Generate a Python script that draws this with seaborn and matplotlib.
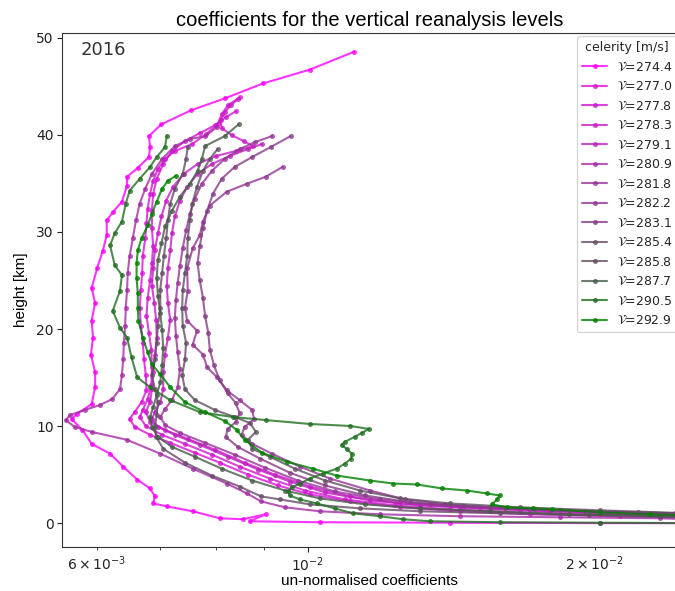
import numpy as np
import pandas as pd
import matplotlib
matplotlib.use("Agg")
import matplotlib.pyplot as plt
from matplotlib.lines import Line2D
import seaborn as sns

# ---------------- data (heights in km, coefficients in units of 1e-3) ----------------
year_label = "2016"
celerity = [274.4, 277.0, 277.8, 278.3, 279.1, 280.9, 281.8, 282.2, 283.1,
            285.4, 285.8, 287.7, 290.5, 292.9]
COEF_UNIT = 1e-3

h_2744 = [48.57, 46.73, 45.30, 43.76, 42.54, 41.10, 39.88, 38.75, 37.73, 36.61, 35.69, 34.76,
          33.13, 32.11, 31.19, 29.65, 28.02, 26.28, 24.23, 22.70, 20.86, 19.12, 17.38, 15.54,
          14.01, 12.27, 11.25, 10.74, 9.61, 8.18, 7.16, 5.83, 4.50, 3.58, 2.76, 2.04, 1.74,
          1.23, 0.51, 0.41, 0.92, 0.20, 0.10, 0.05, 0.01, 0.0]
c_2744 = [11.18, 10.05, 8.97, 8.18, 7.54, 7.02, 6.81, 6.83, 6.81, 6.63, 6.46, 6.46,
          6.38, 6.25, 6.15, 6.15, 6.09, 6.01, 5.93, 5.98, 5.93, 5.95, 5.92, 5.98,
          5.98, 5.93, 5.72, 5.65, 5.80, 5.93, 6.20, 6.40, 6.62, 6.83, 6.91, 6.88, 7.11,
          7.57, 8.08, 8.54, 9.03, 8.69, 10.29, 14.09, 20.25, 27.0]

h_2770 = [43.87, 43.05, 42.13, 41.10, 40.08, 39.06, 38.34, 37.53, 36.50, 35.28, 33.95, 32.41,
          30.88, 29.35, 27.51, 25.77, 24.03, 22.19, 20.35, 18.61, 16.87, 15.24, 13.70, 12.47,
          11.45, 10.74, 9.92, 9.10, 8.28, 7.26, 6.24, 5.01, 3.89, 2.97, 2.25, 1.64, 1.23,
          0.92, 0.72, 0.51, 0.10]
c_2770 = [8.48, 8.24, 8.12, 8.04, 7.82, 7.56, 7.25, 7.08, 6.96, 6.88, 6.83, 6.79,
          6.77, 6.75, 6.71, 6.70, 6.68, 6.66, 6.68, 6.71, 6.73, 6.76, 6.77, 6.69,
          6.58, 6.50, 6.58, 6.83, 7.17, 7.61, 8.08, 8.65, 9.30, 10.05, 11.07, 12.49, 14.44,
          17.10, 21.25, 27.0, 32.8]

h_2778 = [42.43, 41.82, 41.00, 40.18, 39.37, 38.34, 37.01, 35.48, 33.95, 32.21, 30.37, 28.53,
          26.79, 25.05, 23.21, 21.37, 19.63, 17.89, 16.05, 14.21, 12.78, 11.66, 10.94, 10.02,
          9.10, 8.18, 7.06, 5.83, 4.60, 3.37, 2.45, 1.84, 1.43, 1.12, 0.92, 0.72, 0.20]
c_2778 = [8.40, 8.20, 7.99, 7.70, 7.43, 7.20, 7.05, 6.94, 6.88, 6.86, 6.86, 6.88,
          6.86, 6.83, 6.79, 6.77, 6.81, 6.85, 6.86, 6.85, 6.79, 6.71, 6.66, 6.76,
          7.03, 7.43, 7.93, 8.48, 9.12, 9.93, 10.93, 12.33, 14.09, 16.69, 20.25, 25.8, 32.8]

h_2783 = [43.66, 43.05, 42.33, 41.51, 40.70, 39.98, 39.37, 38.85, 38.34, 37.83, 37.01, 35.99,
          34.66, 33.23, 31.60, 29.86, 28.12, 26.28, 24.44, 22.70, 20.96, 19.12, 17.38, 15.54,
          13.80, 12.47, 11.45, 10.43, 9.61, 8.69, 7.57, 6.24, 5.01, 3.78, 2.76, 2.04, 1.64,
          1.33, 1.02, 0.82, 0.31]
c_2783 = [8.44, 8.30, 8.18, 8.10, 8.12, 8.32, 8.56, 8.76, 8.40, 8.01, 7.66, 7.41,
          7.22, 7.10, 7.02, 6.96, 6.91, 6.88, 6.86, 6.90, 6.93, 6.94, 6.91, 6.88,
          6.86, 6.83, 6.76, 6.83, 7.08, 7.48, 7.99, 8.58, 9.23, 10.05, 11.07, 12.49, 14.44,
          17.10, 20.70, 25.8, 32.8]

h_2791 = [39.06, 38.55, 37.83, 37.01, 35.99, 34.66, 33.23, 31.60, 29.86, 28.12, 26.28, 24.44,
          22.70, 20.96, 19.12, 17.38, 15.54, 13.80, 12.47, 11.45, 10.74, 9.92, 9.10, 8.08,
          6.85, 5.52, 4.29, 3.17, 2.35, 1.84, 1.53, 1.23, 1.02, 0.82, 0.31]
c_2791 = [8.95, 8.65, 8.28, 7.93, 7.66, 7.47, 7.34, 7.25, 7.20, 7.17, 7.13, 7.11,
          7.13, 7.17, 7.13, 7.08, 7.05, 7.05, 7.00, 6.91, 6.86, 6.96, 7.25, 7.70,
          8.24, 8.87, 9.57, 10.42, 11.62, 13.11, 15.15, 17.94, 21.70, 27.0, 32.8]

h_2809 = [40.80, 39.88, 39.57, 38.85, 37.53, 35.99, 34.46, 32.92, 31.19, 29.35, 27.51, 25.77,
          24.03, 22.19, 20.35, 18.61, 16.87, 15.24, 13.80, 12.78, 12.17, 11.66, 11.15, 10.63,
          9.92, 9.41, 8.59, 7.16, 5.62, 4.09, 3.07, 2.25, 1.64, 1.23, 0.92, 0.72, 0.61,
          0.51, 0.10]
c_2809 = [8.03, 7.80, 7.52, 7.25, 7.03, 6.86, 6.75, 6.66, 6.60, 6.55, 6.50, 6.47,
          6.46, 6.44, 6.43, 6.41, 6.40, 6.38, 6.35, 6.23, 6.05, 5.83, 5.63, 5.57,
          5.69, 5.93, 6.46, 7.00, 7.57, 8.22, 8.63, 8.93, 9.46, 10.29, 11.90, 14.44, 18.38,
          23.4, 31.2]

h_2818 = [39.88, 39.26, 38.55, 37.53, 36.30, 34.97, 33.44, 31.90, 30.16, 28.32, 26.48, 24.74,
          23.01, 21.17, 19.33, 17.59, 15.85, 14.01, 12.68, 11.76, 10.94, 10.12, 9.30, 8.28,
          7.06, 5.73, 4.40, 3.27, 2.45, 1.94, 1.64, 1.33, 1.12, 0.92, 0.41]
c_2818 = [9.17, 8.80, 8.48, 8.18, 7.93, 7.74, 7.61, 7.52, 7.45, 7.39, 7.34, 7.30,
          7.27, 7.25, 7.27, 7.30, 7.34, 7.30, 7.20, 7.08, 7.00, 7.08, 7.34, 7.80,
          8.38, 9.01, 9.76, 10.67, 11.90, 13.43, 15.52, 18.38, 22.20, 27.0, 32.8]

h_2822 = [36.71, 35.69, 34.97, 34.15, 32.72, 31.08, 29.65, 28.32, 26.28, 23.93, 22.19, 20.86,
          19.84, 18.40, 17.38, 16.05, 15.03, 13.70, 12.68, 11.66, 10.74, 9.92, 9.10, 8.18,
          7.16, 5.83, 4.60, 3.37, 2.45, 1.94, 1.53, 1.23, 1.02, 0.51]
c_2822 = [9.41, 9.03, 8.63, 8.22, 7.89, 7.76, 7.70, 7.57, 7.47, 7.48, 7.43, 7.47,
          7.65, 7.57, 7.76, 7.84, 8.03, 8.22, 8.48, 8.74, 8.78, 8.58, 8.52, 8.74,
          9.17, 9.81, 10.55, 11.62, 12.65, 13.93, 16.09, 19.52, 24.28, 31.2]

h_2831 = [39.88, 38.75, 37.73, 36.71, 35.48, 33.95, 32.21, 30.37, 28.53, 26.79, 25.05, 23.21,
          21.37, 19.63, 17.89, 16.26, 14.72, 13.39, 12.37, 11.35, 10.43, 9.71, 8.90, 7.87,
          6.65, 5.21, 3.89, 2.86, 2.15, 1.74, 1.43, 1.12, 0.92, 0.41]
c_2831 = [9.59, 9.14, 8.74, 8.38, 8.12, 7.95, 7.84, 7.76, 7.70, 7.66, 7.70, 7.76,
          7.80, 7.86, 7.89, 7.97, 8.08, 8.24, 8.40, 8.48, 8.40, 8.24, 8.20, 8.44,
          8.91, 9.57, 10.42, 11.48, 12.80, 14.60, 17.30, 20.98, 25.8, 32.8]

h_2854 = [38.75, 37.53, 35.99, 34.46, 32.92, 31.19, 29.35, 27.51, 25.77, 24.03, 22.19, 20.35,
          18.61, 16.87, 15.24, 13.80, 12.47, 11.15, 9.92, 8.90, 7.67, 6.24, 4.91, 3.78,
          2.76, 2.45, 1.94, 1.53, 1.23, 1.02, 0.82, 0.61, 0.20]
c_2854 = [7.48, 7.45, 7.39, 7.25, 7.17, 7.13, 7.10, 7.06, 7.03, 7.00, 7.00, 6.96,
          6.94, 6.91, 6.86, 6.91, 6.96, 6.94, 6.91, 6.93, 7.05, 7.43, 7.93, 8.48,
          8.93, 9.35, 10.05, 11.34, 13.11, 15.90, 19.72, 25.2, 32.8]

h_2858 = [38.55, 37.53, 36.30, 34.66, 32.92, 31.19, 29.35, 27.51, 25.77, 24.03, 22.19, 20.35,
          18.61, 16.87, 15.24, 13.80, 12.68, 11.66, 10.94, 10.33, 9.41, 8.59, 7.67, 6.85,
          5.62, 4.40, 3.37, 2.56, 2.04, 1.64, 1.33, 1.02, 0.51]
c_2858 = [8.04, 7.89, 7.76, 7.65, 7.56, 7.52, 7.48, 7.47, 7.43, 7.39, 7.38, 7.39,
          7.45, 7.43, 7.38, 7.43, 7.61, 7.99, 8.38, 8.69, 8.82, 8.65, 8.74, 9.12,
          9.69, 10.42, 11.34, 12.49, 14.09, 16.69, 20.25, 25.2, 32.8]

h_2877 = [41.10, 39.88, 38.85, 37.53, 36.30, 34.97, 33.64, 32.21, 30.57, 28.83, 27.10, 25.26,
          23.42, 21.68, 19.94, 18.10, 16.26, 14.52, 13.19, 11.96, 10.94, 9.92, 8.90, 7.87,
          6.85, 5.62, 4.40, 3.37, 2.56, 1.94, 1.53, 1.23, 0.92, 0.72, 0.31]
c_2877 = [8.46, 8.18, 7.80, 7.74, 7.66, 7.52, 7.34, 7.20, 7.08, 7.02, 6.96, 6.94,
          6.96, 7.00, 7.03, 7.05, 7.03, 7.00, 6.94, 6.88, 6.83, 6.86, 6.96, 7.20,
          7.61, 8.12, 8.74, 9.46, 10.29, 11.48, 13.11, 15.52, 18.80, 23.4, 31.2]

h_2905 = [39.88, 38.75, 37.73, 36.71, 35.48, 34.25, 32.92, 31.08, 29.86, 28.63, 26.58, 25.56,
          23.93, 21.88, 20.14, 19.12, 17.08, 15.03, 14.01, 12.68, 11.45, 10.94, 10.63, 10.22,
          10.02, 9.71, 9.30, 8.90, 8.38, 8.08, 7.67, 7.16, 6.65, 6.13, 5.62, 5.11, 4.60,
          4.09, 3.68, 3.27, 2.86, 2.45, 2.04, 1.53, 1.02, 0.72, 0.41, 0.20, 0.10, 0.05, 0.01]
c_2905 = [7.11, 7.08, 6.94, 6.83, 6.66, 6.50, 6.44, 6.38, 6.27, 6.20, 6.27, 6.38,
          6.35, 6.24, 6.35, 6.46, 6.53, 6.62, 6.83, 7.17, 7.70, 8.34, 9.03, 10.05,
          11.07, 11.59, 11.39, 11.20, 10.93, 10.85, 10.98, 11.12, 11.10, 10.93, 10.72, 10.37, 10.05,
          9.81, 9.62, 9.53, 9.57, 9.81, 10.22, 10.67, 11.15, 11.90, 12.58, 13.43, 15.90, 20.25, 25.8]

h_2929 = [35.79, 35.28, 34.46, 33.13, 31.90, 30.67, 29.35, 28.12, 26.79, 25.26, 23.72, 22.19,
          20.86, 19.12, 17.59, 16.36, 15.34, 14.01, 12.47, 11.45, 10.53, 9.61, 8.59, 7.26,
          6.34, 5.62, 4.91, 4.40, 4.09, 3.99, 3.58, 3.37, 3.07, 2.86, 2.45, 1.94, 1.64,
          1.53, 1.43, 1.12, 0.92, 0.72, 0.31]
c_2929 = [7.27, 7.13, 7.03, 6.94, 6.86, 6.79, 6.69, 6.63, 6.61, 6.61, 6.63, 6.63,
          6.64, 6.71, 6.79, 6.86, 7.00, 7.17, 7.43, 7.80, 8.18, 8.42, 8.58, 8.95,
          9.50, 10.12, 10.72, 11.62, 12.28, 13.01, 13.83, 14.68, 15.40, 15.90, 15.79, 15.60, 16.18,
          17.22, 18.06, 20.25, 22.85, 27.0, 32.8]

profiles = [(h_2744, c_2744), (h_2770, c_2770), (h_2778, c_2778), (h_2783, c_2783),
            (h_2791, c_2791), (h_2809, c_2809), (h_2818, c_2818), (h_2822, c_2822),
            (h_2831, c_2831), (h_2854, c_2854), (h_2858, c_2858), (h_2877, c_2877),
            (h_2905, c_2905), (h_2929, c_2929)]

# ---------------- build long table ----------------
rows = []
labels = []
for v, (hs, cs) in zip(celerity, profiles):
    assert len(hs) == len(cs), (v, len(hs), len(cs))
    lab = r"$\mathcal{V}$=" + f"{v:.1f}"
    labels.append(lab)
    for i, (h, c) in enumerate(zip(hs, cs)):
        rows.append({"label": lab, "order": i, "height": h, "coef": c * COEF_UNIT})
df = pd.DataFrame(rows)

# colour: linear blend magenta -> green according to celerity
vmin, vmax = min(celerity), max(celerity)
palette = {}
for v, lab in zip(celerity, labels):
    t = (v - vmin) / (vmax - vmin)
    palette[lab] = (1 - t, 0.5 * t, 1 - t)

# ---------------- plot ----------------
sns.set_style("ticks")
plt.rcParams["axes.edgecolor"] = "#333333"
plt.rcParams["xtick.color"] = "#222222"
plt.rcParams["ytick.color"] = "#222222"

fig = plt.figure(figsize=(6.75, 5.91), dpi=100)
ax = fig.add_axes([62 / 675, 44 / 591, (677 - 62) / 675, 514 / 591])
ax.set_xscale("log")

LW, MS, ALPHA = 1.5, 3.6, 0.8
sns.lineplot(data=df, x="coef", y="height", hue="label", hue_order=labels,
             palette=palette, sort=False, estimator=None, marker="o",
             markersize=MS, markeredgewidth=0, linewidth=LW, alpha=ALPHA,
             legend=False, ax=ax)

ax.set_xlim(5.52e-3, 24.4e-3)
ax.set_ylim(-2.45, 50.5)
ax.set_yticks([0, 10, 20, 30, 40, 50])
ax.tick_params(labelsize=10, pad=2.5)
ax.grid(False)

lab_font = ["Liberation Sans", "DejaVu Sans"]
ax.set_title("coefficients for the vertical reanalysis levels", fontsize=14.5,
             family=lab_font, color="black", pad=5)
ax.set_xlabel("un-normalised coefficients", fontsize=11, family=lab_font,
              color="black", labelpad=0)
ax.set_ylabel("height [km]", fontsize=11, family=lab_font, color="black", labelpad=6)

ax.text(0.031, 0.985, year_label, transform=ax.transAxes, ha="left", va="top",
        fontsize=13, color="#333333")

handles = [Line2D([], [], color=palette[lab], marker="o", markersize=MS,
                  markeredgewidth=0, linewidth=LW, alpha=ALPHA) for lab in labels]
leg = fig.legend(handles, labels, title="celerity [m/s]", loc="upper left",
                 bbox_to_anchor=(577 / 675, 1 - 36 / 591), bbox_transform=fig.transFigure,
                 fontsize=9, title_fontsize=9, numpoints=1, labelspacing=0.52,
                 borderaxespad=0, frameon=True, fancybox=True)
leg.get_frame().set_edgecolor("#cccccc")

fig.savefig("out.png", dpi=100)
